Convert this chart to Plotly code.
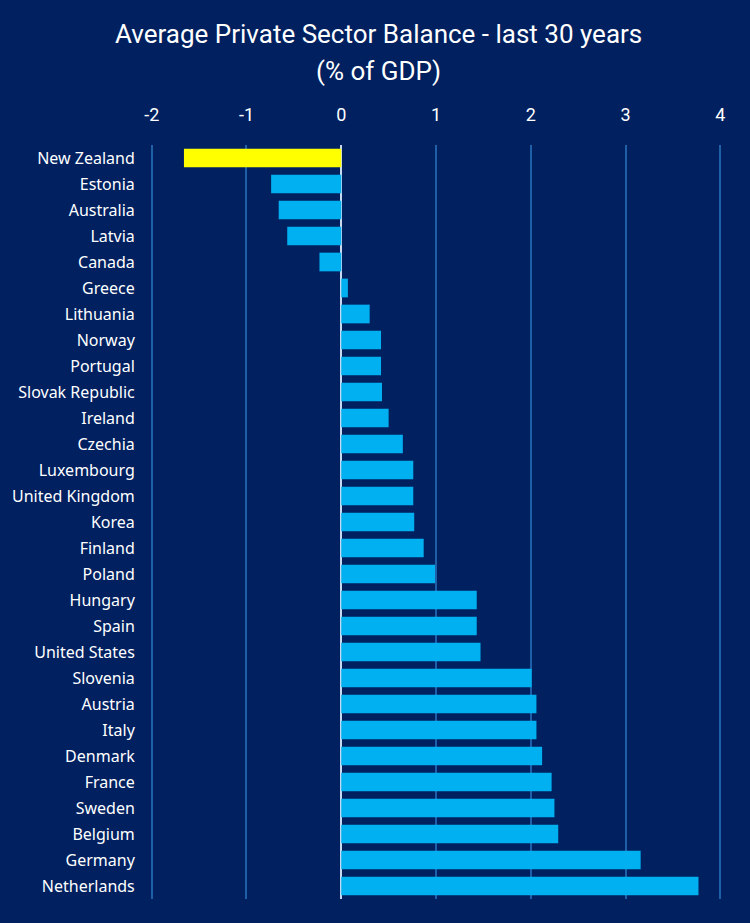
import plotly.graph_objects as go

countries = ["New Zealand", "Estonia", "Australia", "Latvia", "Canada", "Greece",
             "Lithuania", "Norway", "Portugal", "Slovak Republic", "Ireland", "Czechia",
             "Luxembourg", "United Kingdom", "Korea", "Finland", "Poland", "Hungary",
             "Spain", "United States", "Slovenia", "Austria", "Italy", "Denmark",
             "France", "Sweden", "Belgium", "Germany", "Netherlands"]
values = [-1.66, -0.74, -0.66, -0.57, -0.23, 0.07,
          0.30, 0.42, 0.42, 0.43, 0.50, 0.65,
          0.76, 0.76, 0.77, 0.87, 0.99, 1.43,
          1.43, 1.47, 2.01, 2.06, 2.06, 2.12,
          2.22, 2.25, 2.29, 3.16, 3.77]
highlight = "New Zealand"
x_ticks = [-2, -1, 0, 1, 2, 3, 4]
x_tick_labels = ["-2", "-1", "0", "1", "2", "3", "4"]
title_line1 = "Average Private Sector Balance - last 30 years"
title_line2 = "(% of GDP)"

BG = "#002060"
W, H = 750, 923
ML, MR, MT, MB = 141, 25, 145, 24
colors = ["#FFFF00" if c == highlight else "#00B0F0" for c in countries]

fig = go.Figure(go.Bar(
    x=values, y=countries, orientation="h",
    marker=dict(color=colors, line=dict(width=0)),
    width=0.72,
))

plot_w = W - ML - MR
plot_h = H - MT - MB
title_x = (W / 2 - ML) / plot_w

def py(pix_from_top):
    return (H - MB - pix_from_top) / plot_h

fig.update_layout(
    width=W, height=H,
    paper_bgcolor=BG, plot_bgcolor=BG,
    margin=dict(l=ML, r=MR, t=MT, b=MB),
    showlegend=False,
    annotations=[
        dict(text=title_line1, x=title_x, y=py(34), xref="paper", yref="paper",
             xanchor="center", yanchor="middle", showarrow=False,
             font=dict(family="Roboto, sans-serif", size=26, color="white")),
        dict(text=title_line2, x=title_x, y=py(71), xref="paper", yref="paper",
             xanchor="center", yanchor="middle", showarrow=False,
             font=dict(family="Roboto, sans-serif", size=26, color="white")),
    ],
    xaxis=dict(
        side="top", range=[-2.05, 4.05], tickvals=x_ticks, ticktext=x_tick_labels,
        showgrid=True, gridcolor="#1F5FA8", gridwidth=1.5,
        zeroline=True, zerolinecolor="#C5D9F1", zerolinewidth=2,
        tickfont=dict(family="Roboto, sans-serif", size=18, color="white"),
        ticks="", ticklabelstandoff=19,
        showline=False, fixedrange=True,
    ),
    yaxis=dict(
        autorange="reversed", showgrid=False,
        tickfont=dict(family="Noto Sans, sans-serif", size=16, color="white"),
        ticks="outside", ticklen=8, tickcolor=BG,
        showline=False,
    ),
)

fig.write_html(
    "out.html",
    config={"displayModeBar": False},
    post_script="document.body.style.margin='0';document.body.style.background='#002060';",
)
